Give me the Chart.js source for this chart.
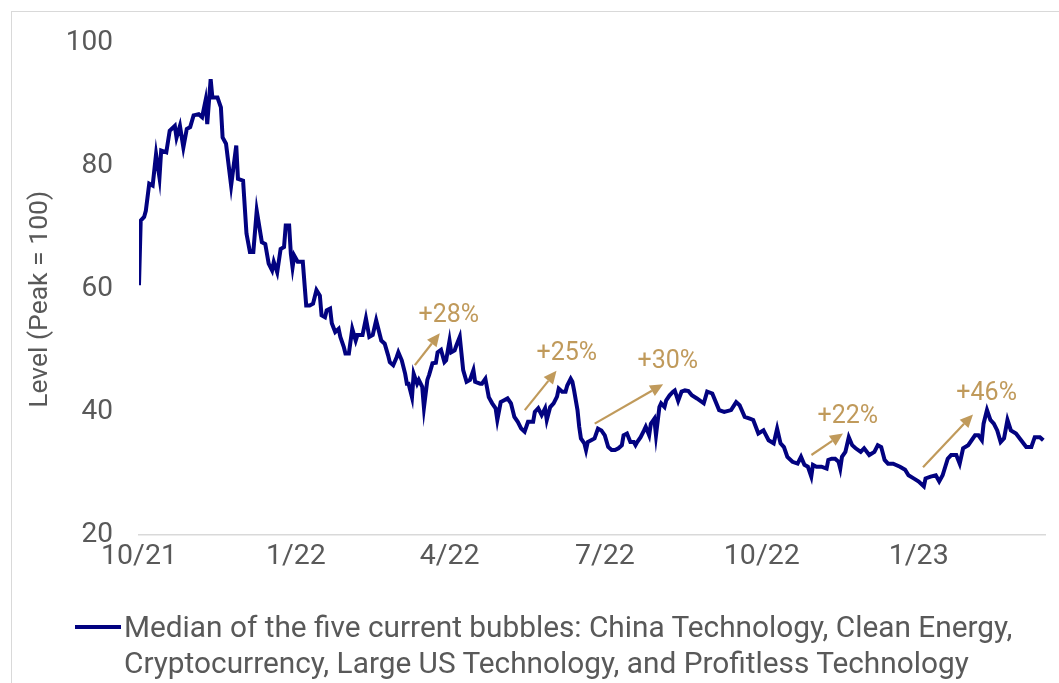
<!DOCTYPE html>
<html>
<head>
<meta charset="utf-8">
<script src="https://cdn.jsdelivr.net/npm/chart.js@4.4.1/dist/chart.umd.min.js"></script>
<style>
  html, body { margin: 0; padding: 0; background: #fff; }
  #wrap { position: relative; width: 1059px; height: 683px; overflow: hidden; font-family: Roboto, "Noto Sans", sans-serif; }
  #frame { position: absolute; left: 11px; top: 11px; width: 1100px; height: 700px; border-left: 1px solid #d9d9d9; border-top: 1px solid #d9d9d9; box-sizing: border-box; }
  #c { position: absolute; left: 0; top: 0; }
  #legend { position: absolute; left: 75px; top: 609px; width: 984px; color: #595959; font-size: 29.8px; line-height: 36px; }
  #legend .sw { position: absolute; left: 0; top: 16px; width: 46px; height: 4px; background: #020280; }
  #legend .tx { position: absolute; left: 49px; top: 0; white-space: nowrap; }
</style>
</head>
<body>
<div id="wrap">
  <div id="frame"></div>
  <canvas id="c" width="1059" height="683"></canvas>
  <div id="legend"><div class="sw"></div><div class="tx">Median of the five current bubbles: China Technology, Clean Energy,<br>Cryptocurrency, Large US Technology, and Profitless Technology</div></div>
</div>
<script>
// Days since 1 Oct 2021
const days = [0,1,3,4,6,8,10,12,13,16,18,21,22,24,26,28,30,32,35,37,39,40,42,43,46,48,49,51,54,57,58,61,63,65,67,69,72,74,76,78,79,81,
83,85,86,88,89,90,91,93,96,98,100,102,104,106,107,109,110,112,113,115,117,118,120,121,123,125,127,128,131,133,135,137,139,140,142,144,146,147,149,151,152,154,156,157,158,160,161,163,164,
166,167,169,170,172,174,175,177,179,180,182,183,185,186,188,189,190,192,194,196,197,200,201,203,205,207,209,210,212,214,216,218,220,222,224,226,228,231,232,234,236,238,239,241,243,245,246,248,250,251,253,254,255,257,258,259,261,262,263,265,267,269,271,273,275,277,279,281,283,284,286,288,290,291,292,294,296,297,299,300,302,303,305,306,308,309,311,313,314,316,318,320,322,324,327,331,333,336,340,343,347,350,352,355,358,360,363,366,369,372,374,376,378,380,383,386,388,390,392,394,395,397,400,403,404,406,408,410,411,412,414,416,418,420,423,425,428,431,433,435,437,439,442,446,449,451,454,457,460,461,464,467,469,471,474,476,479,481,483,486,488,490,492,494,495,497,499,501,503,505,507,509,511,514,517,520,523,525,528,530];
const levels = [60.6,71.1,71.7,72.7,77.1,76.8,81.9,78.1,82.5,82.2,85.7,86.5,84.6,86.5,83.0,86.0,86.3,88.2,88.4,87.9,90.6,86.8,94.1,91.1,91.1,89.5,84.6,83.6,76.8,83.3,77.9,77.6,69.0,66.0,66.0,72.7,67.6,67.3,64.1,63.0,64.4,62.7,
66.5,66.8,70.3,70.3,65.7,63.5,65.4,64.4,64.4,57.3,57.3,57.6,59.8,58.9,55.7,55.4,56.5,56.8,54.4,53.0,53.5,52.2,50.6,49.5,49.5,53.5,51.6,52.5,52.5,55.2,52.2,52.5,54.9,53.8,51.6,51.1,49.2,48.1,47.6,48.9,49.7,48.4,46.2,44.6,44.6,42.4,46.2,44.6,45.2,
44.1,40.7,45.2,46.0,47.9,48.0,49.7,50.1,48.1,48.4,51.6,49.7,50.0,50.8,52.2,49.5,46.8,44.9,45.2,46.8,44.9,44.6,44.6,45.4,42.4,41.4,40.6,38.7,41.6,41.9,42.2,41.4,39.2,38.4,37.3,36.8,38.4,38.4,40.0,40.6,39.5,40.6,38.7,40.8,41.4,42.5,43.8,43.3,43.3,44.3,45.4,44.9,43.5,40.3,37.6,35.7,34.9,33.8,35.1,35.4,35.7,37.3,37.0,36.2,34.3,33.8,33.8,34.1,34.6,36.2,36.5,35.1,35.1,34.6,35.1,35.9,37.0,37.6,36.2,38.1,38.9,36.2,40.8,41.4,40.8,41.9,42.7,43.3,43.5,41.8,43.3,43.5,43.4,42.7,42.2,41.4,43.3,43.0,40.3,40.0,40.3,41.6,41.1,39.2,38.9,38.7,36.5,37.0,35.4,34.9,37.3,34.9,34.3,32.7,31.9,31.6,32.7,31.4,31.1,29.5,31.4,31.1,31.1,30.8,32.2,32.4,32.4,31.9,30.8,32.7,33.5,35.9,34.6,34.1,33.5,34.1,33.0,33.5,34.6,34.3,32.2,31.6,31.6,31.1,30.6,29.7,29.2,28.7,27.9,29.2,29.5,29.7,28.7,29.7,32.4,33.0,33.0,31.6,34.1,34.6,35.4,36.2,36.2,35.4,38.1,40.3,38.7,38.1,37.0,35.1,35.7,38.7,37.0,36.5,35.4,34.3,34.3,35.9,35.9,35.4];

const tickDays = [0, 92, 182, 273, 365, 457];
const tickLabels = ['10/21', '1/22', '4/22', '7/22', '10/22', '1/23'];
const yTicks = [20, 40, 60, 80, 100];
const yTitle = 'Level (Peak = 100)';

// Rally annotations (data coordinates: day, level)
const rallyLabels = ['+28%', '+25%', '+30%', '+22%', '+46%'];
const rallyFromDay = [161.7, 226.1, 267.1, 394.1, 459.5];
const rallyFromLevel = [47.6, 40.3, 38.1, 33.0, 31.0];
const rallyToDay = [176.3, 244.7, 307.2, 412.6, 488.8];
const rallyToLevel = [52.8, 46.7, 44.5, 36.5, 39.6];
const rallyLabelDay = [181.6, 250.7, 309.9, 415.4, 496.8];
const rallyLabelLevel = [55.7, 49.4, 48.1, 39.3, 43.0];

const points = days.map((d, i) => ({ x: d, y: levels[i] }));
const TAN = '#C09A5B';

const arrowPlugin = {
  id: 'rallyArrows',
  afterDatasetsDraw(chart) {
    const { ctx, scales: { x, y } } = chart;
    ctx.save();
    for (let i = 0; i < rallyLabels.length; i++) {
      const x1 = x.getPixelForValue(rallyFromDay[i]);
      const y1 = y.getPixelForValue(rallyFromLevel[i]);
      const x2 = x.getPixelForValue(rallyToDay[i]);
      const y2 = y.getPixelForValue(rallyToLevel[i]);
      const ang = Math.atan2(y2 - y1, x2 - x1);
      const hl = 13, hw = 6;
      const bx = x2 - hl * Math.cos(ang), by = y2 - hl * Math.sin(ang);
      ctx.strokeStyle = TAN; ctx.fillStyle = TAN; ctx.lineWidth = 2.2;
      ctx.beginPath(); ctx.moveTo(x1, y1); ctx.lineTo(bx, by); ctx.stroke();
      ctx.beginPath();
      ctx.moveTo(x2, y2);
      ctx.lineTo(bx + hw * Math.sin(ang), by - hw * Math.cos(ang));
      ctx.lineTo(bx - hw * Math.sin(ang), by + hw * Math.cos(ang));
      ctx.closePath(); ctx.fill();
      ctx.font = '25px Roboto, "Noto Sans", sans-serif';
      ctx.textAlign = 'center'; ctx.textBaseline = 'middle';
      ctx.fillText(rallyLabels[i], x.getPixelForValue(rallyLabelDay[i]), y.getPixelForValue(rallyLabelLevel[i]));
    }
    // y-axis title, placed a little below the vertical centre as in the source
    const yc = y.getPixelForValue(58.3);
    ctx.translate(40, yc);
    ctx.rotate(-Math.PI / 2);
    ctx.fillStyle = '#595959';
    ctx.font = '26.5px Roboto, "Noto Sans", sans-serif';
    ctx.textAlign = 'center'; ctx.textBaseline = 'middle';
    ctx.fillText(yTitle, 0, 0);
    ctx.restore();
  }
};

new Chart(document.getElementById('c'), {
  type: 'line',
  data: {
    datasets: [{
      label: 'Median of the five current bubbles',
      data: points,
      borderColor: '#020280',
      borderWidth: 4,
      pointRadius: 0,
      tension: 0,
      fill: false
    }]
  },
  options: {
    responsive: false,
    animation: false,
    devicePixelRatio: 1,
    layout: { padding: { left: 0, right: 14, top: 42, bottom: 0 } },
    plugins: { legend: { display: false }, tooltip: { enabled: false } },
    scales: {
      x: {
        type: 'linear',
        min: 0,
        max: 531,
        afterFit(s) { s.height = 148; },
        afterBuildTicks(s) { s.ticks = tickDays.map(v => ({ value: v })); },
        ticks: {
          autoSkip: false,
          maxRotation: 0,
          padding: 5,
          color: '#595959',
          font: { family: 'Roboto', size: 28.5 },
          callback(v) { const i = tickDays.indexOf(v); return i >= 0 ? tickLabels[i] : ''; }
        },
        grid: { display: false, drawTicks: false },
        border: { display: true, color: '#d9d9d9', width: 1.5 }
      },
      y: {
        min: 20,
        max: 100,
        afterFit(s) { s.width = 139; },
        afterBuildTicks(s) { s.ticks = yTicks.map(v => ({ value: v })); },
        ticks: {
          padding: 26,
          color: '#595959',
          font: { family: 'Roboto', size: 28 }
        },
        grid: { display: false, drawTicks: false },
        border: { display: false },
        title: { display: false }
      }
    }
  },
  plugins: [arrowPlugin]
});
</script>
</body>
</html>
